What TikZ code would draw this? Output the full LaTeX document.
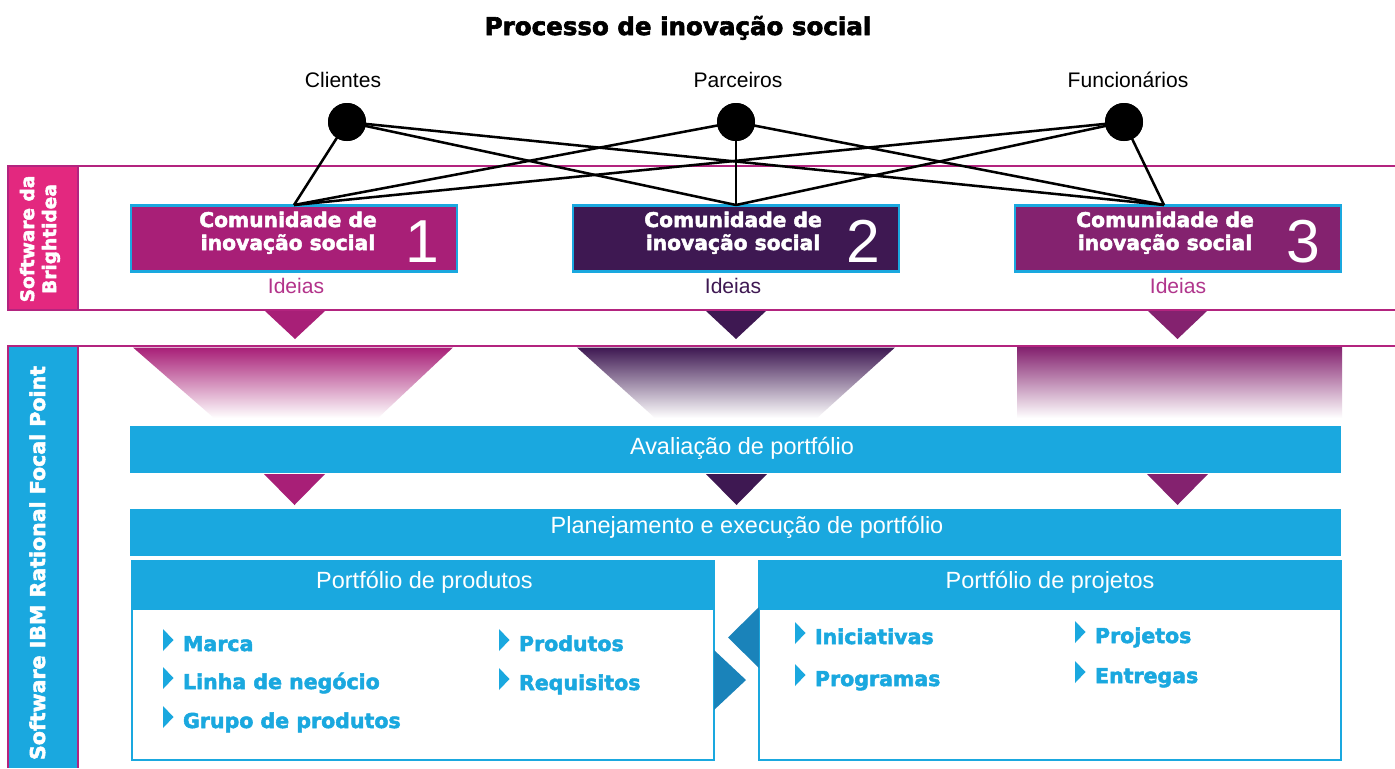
\documentclass[tikz,border=0pt]{standalone}
\usepackage{fontspec}
\setmainfont{Liberation Sans}
\newfontfamily\blk{DejaVu Sans}[BoldFeatures={FakeBold=2.5}]
\definecolor{cyanc}{HTML}{1AA8DF}
\definecolor{magc}{HTML}{A81F77}
\definecolor{purpc}{HTML}{3E1852}
\definecolor{violc}{HTML}{84226F}
\definecolor{pinkc}{HTML}{E3287F}
\definecolor{bandc}{HTML}{B3247F}
\definecolor{arrowc}{HTML}{1A83BA}
\definecolor{idea1}{HTML}{B3338A}
\definecolor{idea3}{HTML}{B0358C}
\tikzset{
  every node/.style={inner sep=0pt, outer sep=0pt},
  ttl/.style={font=\blk\bfseries\fontsize{18.4}{22}\selectfont, anchor=base},
  who/.style={font=\fontsize{15.8}{18}\selectfont, anchor=base},
  dot/.style={circle, fill=black, minimum size=28.5pt},
  tie/.style={line width=1.9pt, draw=black},
  band/.style={line width=1.9pt, draw=bandc},
  combox/.style={draw=cyanc, line width=1.7pt, minimum width=245pt, minimum height=49.5pt},
  comtxt/.style={font=\blk\bfseries\fontsize{15.2}{17}\selectfont, text=white, anchor=base},
  num/.style={font=\fontsize{45.5}{50}\selectfont, text=white, anchor=base},
  idea/.style={font=\fontsize{15.8}{18}\selectfont, anchor=base},
  bar/.style={fill=cyanc, minimum width=908.25pt, minimum height=35.25pt},
  bartxt/.style={font=\fontsize{17.6}{20}\selectfont, text=white, anchor=base},
  item/.style={font=\blk\bfseries\fontsize{15.4}{18}\selectfont, text=cyanc, anchor=base west},
  side/.style={text=white, rotate=90},
  pbox/.style={draw=cyanc, line width=1.5pt, minimum width=436.5pt, minimum height=149.25pt},
}
\newcommand\bitem[4]{%
  \fill[cyanc] (#2,#3-22) -- (#2+10.5,#3-11) -- (#2,#3) -- cycle;
  \node[item] (#1) at (#2+20,#3) {#4};}
\begin{document}
\begin{tikzpicture}[x=0.75pt,y=-0.75pt]
\useasboundingbox (0,0) rectangle (1395,768);
\fill[white] (0,0) rectangle (1395,768);
% title
\node[ttl] (title) at (678,35) {Processo de inovação social};
% bands
\draw[band] (78,166) -- (1395,166);
\draw[band] (78,310) -- (1395,310);
\draw[band] (78,346) -- (1395,346);
\fill[pinkc] (8,166) rectangle (78,310);
\draw[line width=1.5pt, draw=bandc] (8,166) rectangle (78,310);
\node[side, align=center, font=\blk\bfseries\fontsize{13.9}{16.5}\selectfont] (lab1) at (40,239) {Software da\\Brightidea};
\fill[cyanc] (8,346) rectangle (78,768);
\draw[line width=1.5pt, draw=bandc] (8,768) -- (8,346) -- (78,346) -- (78,768);
\node[side, anchor=base, font=\blk\bfseries\fontsize{15.4}{18}\selectfont] (lab2) at (45,563) {Software IBM Rational Focal Point};
% people
\node[who] (w1) at (343,87) {Clientes};
\node[who] (w2) at (738,87) {Parceiros};
\node[who] (w3) at (1128,87) {Funcionários};
\node[dot] (c1) at (347,122) {};
\node[dot] (c2) at (736,122) {};
\node[dot] (c3) at (1124,122) {};
% community boxes
\node[combox, fill=magc] (b1) at (294,238.5) {};
\node[combox, fill=purpc] (b2) at (736,238.5) {};
\node[combox, fill=violc] (b3) at (1178,238.5) {};
\coordinate (j1) at (294,205);
\coordinate (j2) at (736,205);
\coordinate (j3) at (1164,205);
\foreach \c in {c1,c2,c3}{\foreach \j in {j1,j2,j3}{\draw[tie] (\c.center) -- (\j);}}
\node[dot] at (c1) {};
\node[dot] at (c2) {};
\node[dot] at (c3) {};
\node[comtxt] (t1a) at (288,227) {Comunidade de};
\node[comtxt] (t1b) at (288,250) {inovação social};
\node[num] (n1) at (422,262) {1};
\node[comtxt] (t2a) at (733,227) {Comunidade de};
\node[comtxt] (t2b) at (733,250) {inovação social};
\node[num] (n2) at (863,262) {2};
\node[comtxt] (t3a) at (1165,227) {Comunidade de};
\node[comtxt] (t3b) at (1165,250) {inovação social};
\node[num] (n3) at (1303,262) {3};
\node[idea, text=idea1] (i1) at (296,293) {Ideias};
\node[idea, text=purpc] (i2) at (733,293) {Ideias};
\node[idea, text=idea3] (i3) at (1178,293) {Ideias};
% small triangles under band
\fill[magc] (265,311) -- (325,311) -- (295,339) -- cycle;
\fill[purpc] (706,311) -- (766,311) -- (736,339) -- cycle;
\fill[violc] (1148,311) -- (1207,311) -- (1177.5,339) -- cycle;
% gradient funnels
\shade[top color=magc, bottom color=white] (133,347.5) -- (453,347.5) -- (378,418) -- (214,418) -- cycle;
\shade[top color=purpc, bottom color=white] (577,347.5) -- (895,347.5) -- (817,418) -- (655,418) -- cycle;
\shade[top color=violc, bottom color=white] (1017,347.5) rectangle (1342,418);
% bars
\node[bar] (av) at (735.5,449.5) {};
\node[bartxt] (avt) at (742,454) {Avaliação de portfólio};
\fill[magc] (264,474) -- (325,474) -- (294.5,505) -- cycle;
\fill[purpc] (706,474) -- (767,474) -- (736.5,505) -- cycle;
\fill[violc] (1147,474) -- (1208,474) -- (1177.5,505) -- cycle;
\node[bar] (pl) at (735.5,532) {};
\node[bartxt] (plt) at (747,533) {Planejamento e execução de portfólio};
% portfolio boxes
\node[pbox] (pp) at (423,660.5) {};
\fill[cyanc] (132,561) rectangle (714,610);
\node[bartxt] (ppt) at (424.5,588) {Portfólio de produtos};
\node[pbox] (pj) at (1050,660.5) {};
\fill[cyanc] (759,561) rectangle (1341,610);
\node[bartxt] (pjt) at (1050,588) {Portfólio de projetos};
\fill[arrowc] (pp.east |- 0,650) -- (746,680) -- (pp.east |- 0,710) -- cycle;
\fill[arrowc] (pj.west |- 0,607) -- (728,637.5) -- (pj.west |- 0,668) -- cycle;
% items
\bitem{m1}{163}{651}{Marca}
\bitem{m2}{163}{689}{Linha de negócio}
\bitem{m3}{163}{728}{Grupo de produtos}
\bitem{m4}{499}{651}{Produtos}
\bitem{m5}{499}{690}{Requisitos}
\bitem{p1}{795}{644}{Iniciativas}
\bitem{p2}{795}{686}{Programas}
\bitem{p3}{1075}{643}{Projetos}
\bitem{p4}{1075}{683}{Entregas}
\end{tikzpicture}
\end{document}
